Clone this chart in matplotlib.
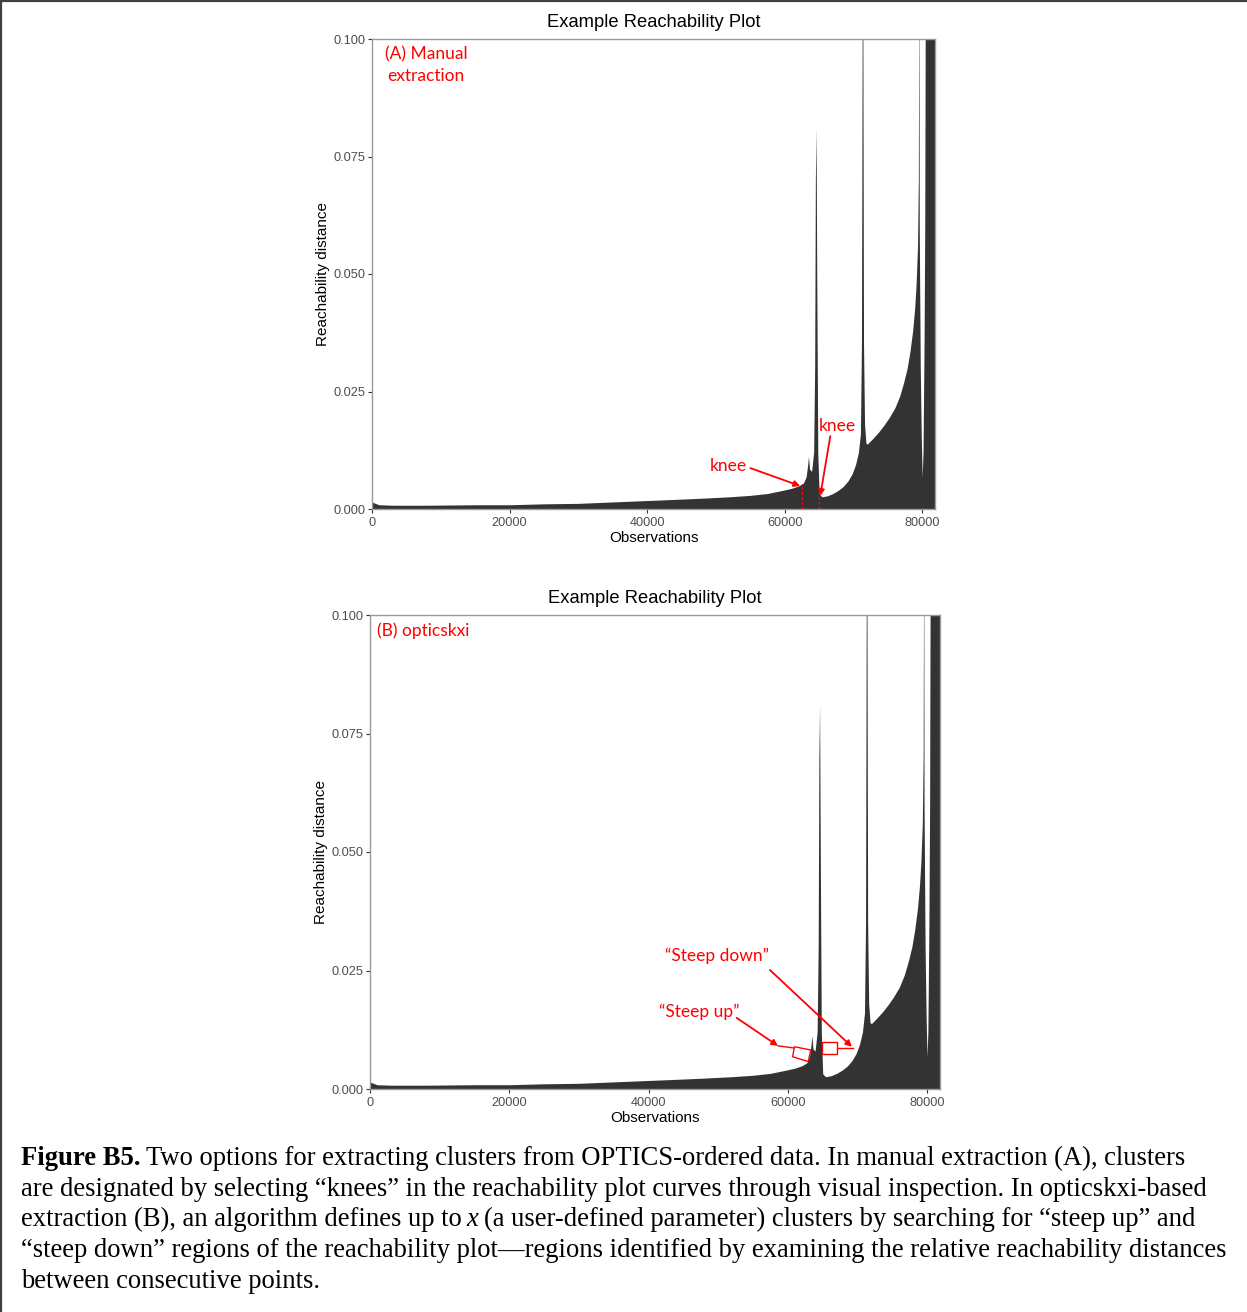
import numpy as np
import matplotlib
matplotlib.use('Agg')
import matplotlib.pyplot as plt
from matplotlib.lines import Line2D
from matplotlib.patches import Polygon

W, H = 1247, 1312
DPI = 100

# upper envelope of the OPTICS reachability bars (ordered observations)
obs = [0, 300, 1000, 3000, 8000, 15000, 20000, 25000, 30000, 35000,
       40000, 45000, 48000, 52000, 55000, 57500, 59800, 61000, 62000, 62700,
       63100, 63300, 63450, 63600, 63900, 64200, 64350, 64450, 64550, 64650,
       64800, 65000, 65400, 66200, 67000, 67800, 68500, 69200, 69800, 70300,
       70700, 71000, 71150, 71250, 71350, 71450, 71600, 71800, 72000, 72800,
       73600, 74400, 75200, 76000, 76700, 77300, 77800, 78200, 78600, 78900,
       79100, 79300, 79420, 79500, 79550, 79700, 79850, 79980, 80100, 80250,
       80350, 80450, 81840]
reach = [0.0015, 0.0013, 0.0009, 0.0008, 0.0008, 0.0009, 0.0009, 0.0011, 0.0012, 0.0015,
         0.0018, 0.0021, 0.0023, 0.0026, 0.0029, 0.0033, 0.0040, 0.0044, 0.0049, 0.0055,
         0.0068, 0.0090, 0.0112, 0.0085, 0.0080, 0.0120, 0.0300, 0.0700, 0.0810, 0.0500,
         0.0120, 0.0032, 0.0026, 0.0028, 0.0033, 0.0040, 0.0048, 0.0060, 0.0075, 0.0095,
         0.0120, 0.0160, 0.0350, 0.1000, 0.1050, 0.0350, 0.0180, 0.0140, 0.0138, 0.0150,
         0.0163, 0.0178, 0.0195, 0.0215, 0.0240, 0.0270, 0.0300, 0.0335, 0.0380, 0.0430,
         0.0480, 0.0560, 0.0700, 0.1200, 0.0600, 0.0300, 0.0150, 0.0068, 0.0120, 0.0350,
         0.0600, 0.1200, 0.1200]
n_obs = 81840

xticks = [0, 20000, 40000, 60000, 80000]
yticks = [0.0, 0.025, 0.05, 0.075, 0.1]

# cut points picked by hand in panel A
knee_obs = [62460, 65010]

RED = '#ff0000'
BAR = '#333333'
sans = 'Liberation Sans'
note_font = 'Lato'


def reach_panel(ax):
    ax.fill_between(obs, reach, color=BAR, lw=0)
    ax.set_xlim(0, n_obs)
    ax.set_ylim(0, 0.1)
    ax.set_xticks(xticks)
    ax.set_xticklabels([str(t) for t in xticks])
    ax.set_yticks(yticks)
    ax.set_yticklabels(['%.3f' % t for t in yticks])
    for s in ax.spines.values():
        s.set_color('#9a9a9a')
        s.set_linewidth(1.0)
    ax.tick_params(length=3, width=0.8, color='#333333', labelcolor='#4d4d4d',
                   labelsize=9.2, pad=2)
    ax.tick_params(axis='x', pad=2.8)
    for lab in ax.get_xticklabels() + ax.get_yticklabels():
        lab.set_family(sans)
    ax.set_title('Example Reachability Plot', fontsize=13.2, family=sans, pad=8.3)
    ax.set_xlabel('Observations', fontsize=11, family=sans, labelpad=1.5)
    ax.set_ylabel('Reachability distance', fontsize=11, family=sans, labelpad=2.5)


def red_arrow(ax, tail, head):
    ax.annotate('', xy=head, xytext=tail,
                arrowprops=dict(arrowstyle='-|>', color=RED, lw=1.3,
                                mutation_scale=9, shrinkA=0, shrinkB=0))


fig = plt.figure(figsize=(W / DPI, H / DPI), dpi=DPI)

# ---- panel A: manual extraction
axA = fig.add_axes([372 / W, 1 - 509 / H, 563 / W, 470 / H])
reach_panel(axA)
axA.text(0.096, 0.944, '(A) Manual\nextraction', transform=axA.transAxes,
         ha='center', va='center', color=RED, fontsize=12.5, family=note_font,
         linespacing=1.38)
axA.text(51780, 0.0092, 'knee', ha='center', va='center', color=RED,
         fontsize=12.5, family=note_font)
axA.text(67640, 0.0177, 'knee', ha='center', va='center', color=RED,
         fontsize=12.5, family=note_font)
red_arrow(axA, (55010, 0.0087), (62250, 0.0049))
red_arrow(axA, (66620, 0.0155), (65160, 0.0028))
for k in knee_obs:
    axA.plot([k, k], [0, np.interp(k, obs, reach)], color=RED, lw=1,
             ls=(0, (2, 1.5)))

# ---- panel B: opticskxi
axB = fig.add_axes([370 / W, 1 - 1089 / H, 570 / W, 474 / H])
reach_panel(axB)
axB.text(0.012, 0.966, '(B) opticskxi', transform=axB.transAxes,
         ha='left', va='center', color=RED, fontsize=12.5, family=note_font)
axB.text(49820, 0.0281, '\u201cSteep down\u201d', ha='center', va='center',
         color=RED, fontsize=12.5, family=note_font)
axB.text(47310, 0.0163, '\u201cSteep up\u201d', ha='center', va='center',
         color=RED, fontsize=12.5, family=note_font)
red_arrow(axB, (57430, 0.0251), (69200, 0.0089))
red_arrow(axB, (52650, 0.0150), (58580, 0.0091))

# region boxes with their leader lines
axB.plot([58580, 60890], [0.0091, 0.00865], color=RED, lw=1)
axB.add_patch(Polygon([(60930, 0.00892), (63280, 0.00823), (62930, 0.00578),
                       (60690, 0.00681)], closed=True, fc='white', ec=RED, lw=1,
                      zorder=3))
axB.plot([67090, 69300], [0.00871, 0.00871], color=RED, lw=1)
axB.add_patch(Polygon([(64850, 0.00985), (67090, 0.00985), (67090, 0.00738),
                       (64850, 0.00738)], closed=True, fc='white', ec=RED, lw=1,
                      zorder=3))

# ---- frame lines of the page
fig.add_artist(Line2D([0, 1], [1 - 1 / H, 1 - 1 / H], color='#404040', lw=1.6))
fig.add_artist(Line2D([1 / W, 1 / W], [0, 1], color='#404040', lw=1.6))

# ---- caption
serif = 'Liberation Serif'
cap_size = 19.2
base = [1165, 1195.75, 1226.5, 1257.25, 1288]
x0 = 21
fig.canvas.draw()
rend = fig.canvas.get_renderer()


def cap_run(x, y, s, **kw):
    t = fig.text(x / W, 1 - y / H, s, family=serif, fontsize=cap_size,
                 va='baseline', ha='left', **kw)
    return t.get_window_extent(rend).x1


space = 5
end = cap_run(x0, base[0], 'Figure B5.', weight='bold')
cap_run(end + space, base[0],
        'Two options for extracting clusters from OPTICS-ordered data. In manual extraction (A), clusters')
cap_run(x0, base[1],
        'are designated by selecting \u201cknees\u201d in the reachability plot curves through visual inspection. In opticskxi-based')
end = cap_run(x0, base[2], 'extraction (B), an algorithm defines up to')
end = cap_run(end + space, base[2], 'x', style='italic')
cap_run(end + space, base[2],
        '(a user-defined parameter) clusters by searching for \u201csteep up\u201d and')
cap_run(x0, base[3],
        '\u201csteep down\u201d regions of the reachability plot\u2014regions identified by examining the relative reachability distances')
cap_run(x0, base[4], 'between consecutive points.')

fig.savefig('out.png', dpi=DPI)
